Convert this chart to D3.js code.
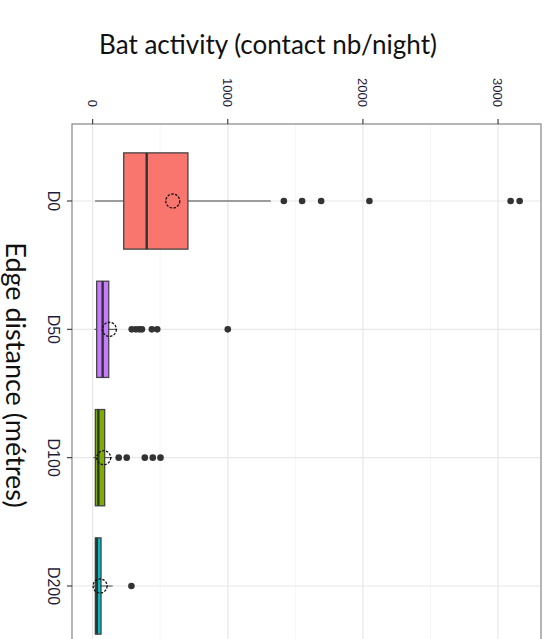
<!DOCTYPE html>
<html>
<head>
<meta charset="utf-8">
<script src="https://cdn.jsdelivr.net/npm/d3@7"></script>
<style>
  body { margin: 0; background: #fff; }
  svg { display: block; }
</style>
</head>
<body>
<script>
// data
var categories = ["D0", "D50", "D100", "D200"]
var fills = ["#F8766D", "#C77CFF", "#7CAE00", "#00BFC4"]
var whiskerLow = [18, 13, 5, 7]
var q1 = [230, 30, 20, 20]
var median = [400, 74, 42, 31]
var q3 = [705, 119, 89, 62]
var whiskerHigh = [1318, 173, 144, 148]
var means = [593, 124, 82, 55]
var outliers = [
  [1415, 1550, 1691, 2048, 3093, 3160],
  [289, 320, 345, 365, 438, 478, 1000],
  [193, 252, 386, 445, 502],
  [287]
]
var majorTicks = [0, 1000, 2000, 3000]
var minorTicks = [500, 1500, 2500]

var width = 554, height = 639
var panel = {left: 72, right: 541, top: 124, bottom: 663}

var svg = d3.select("body")
    .append("svg")
    .attr("width", width)
    .attr("height", height)

// value scale, ggplot style 5% expansion
var lo = d3.min(whiskerLow), hi = d3.max(outliers, function(o) { return d3.max(o) })
var pad = (hi - lo) * 0.05
var x = d3.scaleLinear()
    .domain([lo - pad, hi + pad])
    .range([panel.left, panel.right])

var y = d3.scalePoint()
    .domain(categories)
    .range([panel.top, panel.bottom])
    .padding(0.6)

var boxH = y.step() * 0.75

// panel background + grid
svg.append("rect")
    .attr("x", panel.left).attr("y", panel.top)
    .attr("width", panel.right - panel.left)
    .attr("height", panel.bottom - panel.top)
    .attr("fill", "#fff")

svg.selectAll(".minor")
    .data(minorTicks)
    .enter().append("line")
    .attr("x1", function(d) { return x(d) }).attr("x2", function(d) { return x(d) })
    .attr("y1", panel.top).attr("y2", panel.bottom)
    .attr("stroke", "#f4f4f4").attr("stroke-width", 0.8)

svg.selectAll(".major")
    .data(majorTicks)
    .enter().append("line")
    .attr("x1", function(d) { return x(d) }).attr("x2", function(d) { return x(d) })
    .attr("y1", panel.top).attr("y2", panel.bottom)
    .attr("stroke", "#e8e8e8").attr("stroke-width", 1.2)

svg.selectAll(".hgrid")
    .data(categories)
    .enter().append("line")
    .attr("x1", panel.left).attr("x2", panel.right)
    .attr("y1", function(d) { return y(d) }).attr("y2", function(d) { return y(d) })
    .attr("stroke", "#e8e8e8").attr("stroke-width", 1.2)

// boxes
var g = svg.selectAll(".box")
    .data(categories)
    .enter().append("g")
    .attr("class", "box")

g.append("line")
    .attr("x1", function(d, i) { return x(whiskerLow[i]) })
    .attr("x2", function(d, i) { return x(q1[i]) })
    .attr("y1", function(d) { return y(d) }).attr("y2", function(d) { return y(d) })
    .attr("stroke", "#444").attr("stroke-width", 1)

g.append("line")
    .attr("x1", function(d, i) { return x(q3[i]) })
    .attr("x2", function(d, i) { return x(whiskerHigh[i]) })
    .attr("y1", function(d) { return y(d) }).attr("y2", function(d) { return y(d) })
    .attr("stroke", "#444").attr("stroke-width", 1)

g.append("rect")
    .attr("x", function(d, i) { return x(q1[i]) })
    .attr("width", function(d, i) { return x(q3[i]) - x(q1[i]) })
    .attr("y", function(d) { return y(d) - boxH / 2 })
    .attr("height", boxH)
    .attr("fill", function(d, i) { return fills[i] })
    .attr("stroke", "#444").attr("stroke-width", 1.3)

g.append("line")
    .attr("x1", function(d, i) { return x(median[i]) })
    .attr("x2", function(d, i) { return x(median[i]) })
    .attr("y1", function(d) { return y(d) - boxH / 2 })
    .attr("y2", function(d) { return y(d) + boxH / 2 })
    .attr("stroke", "#333").attr("stroke-width", 2.4)

// outlier dots
g.selectAll(".out")
    .data(function(d, i) { return outliers[i].map(function(v) { return {c: d, v: v} }) })
    .enter().append("circle")
    .attr("cx", function(o) { return x(o.v) })
    .attr("cy", function(o) { return y(o.c) })
    .attr("r", 3.3)
    .attr("fill", "#333")

// mean markers
g.append("circle")
    .attr("cx", function(d, i) { return x(means[i]) })
    .attr("cy", function(d) { return y(d) })
    .attr("r", 7)
    .attr("fill", "none")
    .attr("stroke", "#111").attr("stroke-width", 1.3)
    .attr("stroke-dasharray", "2.5,1.4")

// panel border
svg.append("rect")
    .attr("x", panel.left).attr("y", panel.top)
    .attr("width", panel.right - panel.left)
    .attr("height", panel.bottom - panel.top)
    .attr("fill", "none")
    .attr("stroke", "#858585").attr("stroke-width", 1.2)

// value axis on top, labels turned
svg.selectAll(".xtick")
    .data(majorTicks)
    .enter().append("line")
    .attr("x1", function(d) { return x(d) }).attr("x2", function(d) { return x(d) })
    .attr("y1", panel.top - 5).attr("y2", panel.top)
    .attr("stroke", "#333").attr("stroke-width", 1.1)

svg.selectAll(".xlab")
    .data(majorTicks)
    .enter().append("text")
    .attr("transform", function(d) { return "translate(" + x(d) + "," + (panel.top - 17) + ") rotate(90)" })
    .attr("dy", "0.35em")
    .attr("text-anchor", "end")
    .style("font-family", "Liberation Sans, Arial, sans-serif")
    .style("font-size", "13px")
    .attr("fill", "#1e1e3c")
    .text(function(d) { return d })

// category axis on left
svg.selectAll(".ytick")
    .data(categories)
    .enter().append("line")
    .attr("x1", panel.left - 5).attr("x2", panel.left)
    .attr("y1", function(d) { return y(d) }).attr("y2", function(d) { return y(d) })
    .attr("stroke", "#333").attr("stroke-width", 1.1)

svg.selectAll(".ylab")
    .data(categories)
    .enter().append("text")
    .attr("transform", function(d) { return "translate(" + 48 + "," + y(d) + ") rotate(90)" })
    .attr("text-anchor", "middle")
    .style("font-family", "Liberation Sans, Arial, sans-serif")
    .style("font-size", "16px")
    .attr("fill", "#1e1e3c")
    .text(function(d) { return d })

// titles
svg.append("text")
    .attr("x", 268).attr("y", 54)
    .attr("text-anchor", "middle")
    .style("font-family", "Lato, sans-serif")
    .style("font-size", "26px")
    .attr("fill", "#111")
    .text("Bat activity (contact nb/night)")

svg.append("text")
    .attr("transform", "translate(6,375) rotate(90)")
    .attr("text-anchor", "middle")
    .style("font-family", "Lato, sans-serif")
    .style("font-size", "27px")
    .attr("fill", "#111")
    .text("Edge distance (métres)")
</script>
</body>
</html>
